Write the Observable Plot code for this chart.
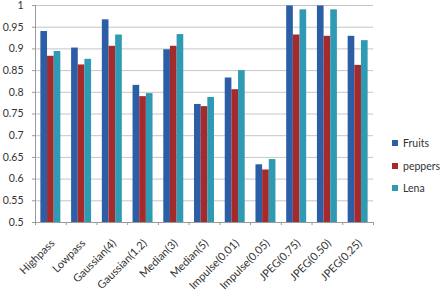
<!DOCTYPE html>
<html>
<head>
<meta charset="utf-8">
<script src="https://cdn.jsdelivr.net/npm/d3@7"></script>
<script src="https://cdn.jsdelivr.net/npm/@observablehq/plot@0.6"></script>
<style>
  html, body { margin: 0; padding: 0; background: #fff; }
  #wrap { position: relative; width: 445px; height: 296px; font-family: Lato, "Open Sans", sans-serif; }
  #legend { position: absolute; left: 392px; top: 132px; font-size: 10.5px; color: #333; }
  #legend div { height: 22.5px; display: flex; align-items: center; white-space: nowrap; }
  #legend span.sw { display: inline-block; width: 6px; height: 6px; margin-right: 5px; }
</style>
</head>
<body>
<div id="wrap"></div>
<script>
const categories = ["Highpass","Lowpass","Gaussian(4)","Gaussian(1.2)","Median(3)","Median(5)","Impulse(0.01)","Impulse(0.05)","JPEG(0.75)","JPEG(0.50)","JPEG(0.25)"];
const series = ["Fruits","peppers","Lena"];
const fruits  = [0.940,0.902,0.967,0.816,0.898,0.772,0.833,0.633,0.999,0.999,0.929];
const peppers = [0.883,0.863,0.906,0.790,0.906,0.767,0.806,0.621,0.932,0.929,0.862];
const lena    = [0.894,0.876,0.932,0.797,0.933,0.788,0.850,0.645,0.990,0.990,0.919];
const colors = ["#2c5ea6","#a42a2c","#2e9ab3"];
const yTicks = [0.5,0.55,0.6,0.65,0.7,0.75,0.8,0.85,0.9,0.95,1];

const valuesBySeries = [fruits, peppers, lena];
const rows = [];
series.forEach((s, si) => categories.forEach((c, ci) => rows.push({category: c, ci, series: s, si, value: valuesBySeries[si][ci]})));

const groupPad = 0.175;            // fraction of each category slot left empty at each side
const w = (1 - 2 * groupPad) / series.length;

const chart = Plot.plot({
  width: 445,
  height: 296,
  marginLeft: 35,
  marginRight: 72,
  marginTop: 5,
  marginBottom: 74,
  style: {fontFamily: "Lato, 'Open Sans', sans-serif", fontSize: "10px", color: "#333", background: "#fff"},
  x: {domain: [0, categories.length], axis: null},
  y: {domain: [0.5, 1], axis: null},
  color: {domain: series, range: colors},
  marks: [
    Plot.gridY(yTicks, {stroke: "#c6c6c6", strokeOpacity: 1}),
    Plot.rectY(rows, {
      x1: d => d.ci + groupPad + d.si * w,
      x2: d => d.ci + groupPad + (d.si + 1) * w,
      y1: 0.5,
      y2: "value",
      fill: "series"
    }),
    Plot.ruleY([0.5], {stroke: "#9a9a9a"}),
    Plot.ruleX([0], {stroke: "#9a9a9a"}),
    Plot.axisY({ticks: yTicks, tickSize: 3, tickPadding: 9, stroke: "#9a9a9a", label: null, tickFormat: d => String(+d.toFixed(2)), fontSize: 10.5}),
    Plot.axisX({ticks: d3.range(0, categories.length + 1), tickSize: 3, label: null, tickFormat: () => "", stroke: "#9a9a9a"}),
    Plot.axisX({ticks: d3.range(0.5, categories.length, 1), tickSize: 0, tickPadding: 19, dx: 2, tickRotate: -45, label: null, tickFormat: d => categories[Math.floor(d)], fontSize: 11})
  ]
});
document.getElementById("wrap").appendChild(chart);

const legend = document.createElement("div");
legend.id = "legend";
series.forEach((s, i) => {
  const row = document.createElement("div");
  const sw = document.createElement("span");
  sw.className = "sw";
  sw.style.background = colors[i];
  row.appendChild(sw);
  row.appendChild(document.createTextNode(s));
  legend.appendChild(row);
});
document.getElementById("wrap").appendChild(legend);
</script>
</body>
</html>
